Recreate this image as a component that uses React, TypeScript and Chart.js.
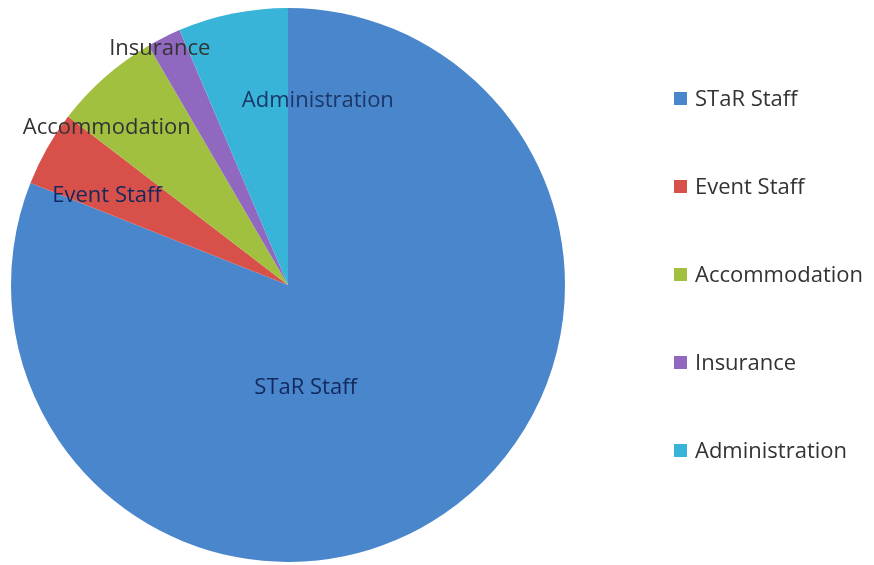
import React, { useEffect, useRef } from "react";
import { Chart, registerables } from "chart.js";

Chart.register(...registerables);

const categories = ["STaR Staff", "Event Staff", "Accommodation", "Insurance", "Administration"];
const shares = [81.0, 4.4, 6.2, 2.0, 6.4];
const sliceColors = ["#4a86cc", "#d8504a", "#a2c040", "#9068c0", "#38b4d8"];
const labelColors = ["#13295e", "#13295e", "#333333", "#333333", "#1a3768"];

// label placement: t = fraction along the slice's angular span, rf = fraction of radius
const labelPlacement = [
  { t: 0.584, rf: 0.378 },
  { t: 0.29, rf: 0.728 },
  { t: 0.16, rf: 0.867 },
  { t: 0.25, rf: 0.972 },
  { t: 1.4, rf: 0.673 },
];

const FONT = "'Open Sans', sans-serif";

const sliceLabelPlugin = {
  id: "sliceLabels",
  afterDatasetsDraw(chart: any) {
    const ctx = chart.ctx;
    const meta = chart.getDatasetMeta(0);
    ctx.save();
    ctx.font = `22px ${FONT}`;
    ctx.textAlign = "center";
    ctx.textBaseline = "middle";
    meta.data.forEach((arc: any, i: number) => {
      const p = arc.getProps(["x", "y", "startAngle", "endAngle", "outerRadius"], true);
      const pl = labelPlacement[i];
      const a = p.startAngle + pl.t * (p.endAngle - p.startAngle);
      const r = p.outerRadius * pl.rf;
      ctx.fillStyle = labelColors[i];
      ctx.fillText(chart.data.labels[i], p.x + Math.cos(a) * r, p.y + Math.sin(a) * r);
    });
    ctx.restore();
  },
};

const sideLegendPlugin = {
  id: "sideLegend",
  afterDraw(chart: any) {
    const ctx = chart.ctx;
    const colors = chart.data.datasets[0].backgroundColor;
    ctx.save();
    ctx.font = `22px ${FONT}`;
    ctx.textAlign = "left";
    ctx.textBaseline = "middle";
    chart.data.labels.forEach((lab: string, i: number) => {
      const y = 99 + i * 88;
      ctx.fillStyle = colors[i];
      ctx.fillRect(674, y - 7, 13, 13);
      ctx.fillStyle = "#333333";
      ctx.fillText(lab, 695, y + 1);
    });
    ctx.restore();
  },
};

export default function App() {
  const ref = useRef<HTMLCanvasElement | null>(null);
  useEffect(() => {
    if (!ref.current) return;
    const chart = new Chart(ref.current, {
      type: "pie",
      data: {
        labels: categories,
        datasets: [
          {
            data: shares,
            backgroundColor: sliceColors,
            borderWidth: 0,
          },
        ],
      },
      options: {
        animation: false,
        responsive: true,
        maintainAspectRatio: false,
        layout: { padding: { left: 11, top: 8, right: 309, bottom: 3 } },
        plugins: {
          legend: { display: false },
          tooltip: { enabled: false },
          title: { display: false },
        },
      },
      plugins: [sliceLabelPlugin, sideLegendPlugin],
    });
    return () => chart.destroy();
  }, []);
  return (
    <div style={{ position: "fixed", left: 0, top: 0, width: 874, height: 565, background: "#ffffff" }}>
      <canvas ref={ref} />
    </div>
  );
}
